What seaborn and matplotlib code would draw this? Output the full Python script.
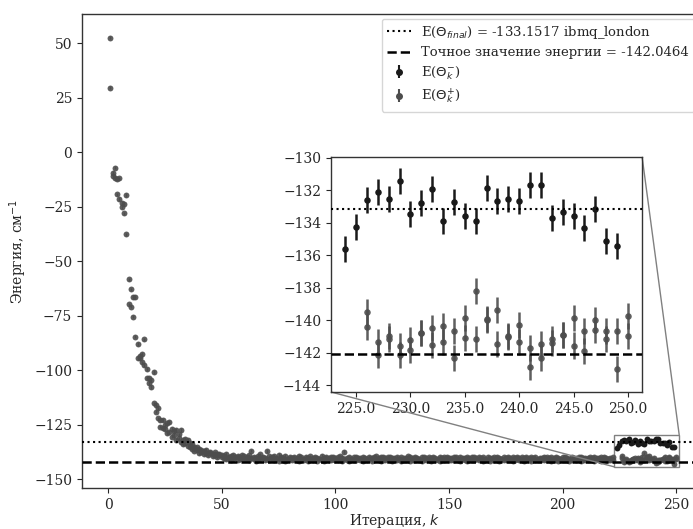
import numpy as np
import pandas as pd
import matplotlib
matplotlib.use("Agg")
import matplotlib.pyplot as plt
import seaborn as sns
from mpl_toolkits.axes_grid1.inset_locator import mark_inset

# ---------------- data ----------------
E_final = -133.1517
E_exact = -142.0464

# iterations for the grey series (E(Theta_k^+)), two runs per iteration
k_plus = list(range(1, 223)) + list(range(226, 251))
plus_a = [
    52.5, -9.5, -7.2, -12.5, -12.1, -23.2, -24.0, -19.7, -58.4, -63.0,
    -66.4, -66.4, -88.0, -94.6, -96.5, -85.9, -103.8, -106.0, -107.7, -100.8,
    -116.1, -117.6, -126.0, -123.0, -125.2, -129.0, -123.7, -127.0, -129.8, -127.5,
    -131.3, -127.5, -132.1, -133.6, -132.1, -135.2, -134.0, -135.2, -136.7, -136.0,
    -137.5, -137.0, -136.7, -138.0, -138.2, -138.5, -137.8, -138.5, -139.0, -138.8,
    -139.2, -138.6, -139.8, -139.5, -138.9, -140.1, -139.4, -139.9, -138.8, -139.6,
    -139.7, -139.1, -136.9, -139.8, -140.2, -139.5, -138.7, -139.9, -140.3, -137.2,
    -139.6, -140.1, -139.3, -140.4, -139.0, -139.9, -140.2, -139.5, -140.6, -139.8,
    -140.3, -139.7, -140.5, -139.4, -140.1, -140.6, -139.8, -140.2, -139.6, -140.4,
    -139.9, -140.3, -140.7, -139.5, -140.2, -139.8, -140.5, -140.0, -139.7, -140.4,
    -140.1, -139.6, -140.4, -137.6, -140.2, -139.9, -140.6, -140.0, -139.7, -140.3,
    -140.5, -139.8, -140.2, -140.6, -139.9, -140.3, -140.0, -139.6, -140.4, -140.1,
    -139.8, -140.4, -140.1, -139.7, -140.5, -140.2, -139.9, -140.6, -140.0, -140.3,
    -140.2, -139.6, -140.0, -140.5, -139.8, -140.3, -140.7, -139.9, -140.1, -140.4,
    -140.0, -140.4, -139.7, -140.2, -140.6, -139.9, -140.3, -140.1, -139.8, -140.5,
    -140.3, -139.9, -140.1, -140.6, -139.7, -140.2, -140.4, -140.0, -140.5, -139.8,
    -140.1, -140.5, -139.8, -140.3, -140.0, -140.6, -139.9, -140.2, -140.4, -140.1,
    -139.9, -140.3, -140.6, -140.0, -140.2, -139.7, -140.4, -140.1, -140.5, -139.8,
    -140.2, -140.0, -140.4, -139.8, -140.5, -140.1, -140.3, -139.9, -140.6, -140.2,
    -140.4, -139.9, -140.1, -140.5, -140.0, -140.3, -139.7, -140.2, -140.6, -140.1,
    -140.0, -140.3, -140.6, -139.8, -140.2, -140.4, -140.1, -139.9, -140.5, -140.2,
    -140.3, -140.0, -140.4, -139.8, -140.2, -140.5, -140.1, -139.9, -140.3, -140.6,
    -140.2, -140.0,
    -139.50, -141.34, -140.97, -141.58, -141.21, -140.76, -140.46, -140.31, -140.62, -139.84,
    -138.16, -139.90, -139.33, -141.01, -140.25, -141.68, -141.42, -141.11, -140.87, -139.84,
    -140.66, -139.99, -140.66, -140.66, -139.74,
]
plus_b = [
    29.5, -11.0, -12.0, -19.4, -21.6, -25.4, -28.1, -37.8, -69.9, -70.9,
    -75.5, -84.7, -94.6, -93.5, -92.7, -97.7, -99.5, -103.8, -104.5, -115.3,
    -119.1, -122.2, -123.0, -126.5, -127.0, -124.5, -128.3, -130.5, -128.0, -132.0,
    -129.5, -133.0, -134.0, -131.5, -135.0, -133.5, -136.0, -137.0, -135.5, -138.0,
    -136.5, -138.5, -138.0, -139.0, -137.5, -139.5, -139.0, -140.0, -138.5, -140.0,
    -140.4, -140.9, -140.2, -141.1, -140.6, -140.0, -141.3, -140.7, -140.5, -141.0,
    -140.8, -141.2, -140.4, -140.9, -141.5, -140.6, -141.0, -140.3, -141.4, -140.7,
    -141.1, -140.5, -141.3, -140.8, -141.6, -140.9, -141.2, -141.5, -140.7, -141.0,
    -141.4, -140.9, -141.1, -141.7, -140.8, -141.3, -141.0, -141.6, -140.7, -141.2,
    -141.0, -141.5, -140.8, -141.3, -141.6, -140.9, -141.2, -141.4, -140.6, -141.1,
    -141.3, -140.8, -141.5, -141.0, -141.2, -141.7, -140.9, -141.4, -141.1, -140.7,
    -141.2, -141.6, -140.9, -141.3, -141.0, -141.5, -141.1, -140.8, -141.4, -141.7,
    -141.1, -141.4, -140.8, -141.2, -141.6, -141.0, -141.3, -140.9, -141.5, -141.2,
    -141.3, -140.9, -141.5, -141.1, -141.4, -140.8, -141.2, -141.6, -141.0, -141.3,
    -141.2, -141.5, -140.9, -141.3, -141.1, -141.6, -140.8, -141.4, -141.0, -141.3,
    -141.1, -141.4, -140.9, -141.2, -141.5, -141.0, -141.3, -141.7, -140.8, -141.2,
    -141.4, -141.0, -141.3, -140.9, -141.6, -141.1, -141.2, -141.5, -140.8, -141.3,
    -141.2, -141.5, -141.0, -141.3, -140.9, -141.4, -141.1, -141.6, -141.2, -140.8,
    -141.3, -141.1, -141.5, -141.0, -141.2, -141.6, -140.9, -141.4, -141.1, -141.3,
    -141.0, -141.4, -141.2, -140.9, -141.5, -141.1, -141.3, -141.6, -141.0, -141.2,
    -141.3, -141.1, -141.5, -141.2, -140.9, -141.4, -141.0, -141.6, -141.2, -141.3,
    -141.1, -141.4, -141.2, -141.5, -140.9, -141.3, -141.6, -141.0, -141.2, -141.4,
    -141.3, -141.1,
    -140.40, -142.15, -141.17, -142.15, -141.79, -140.80, -141.48, -141.34, -142.30, -141.07,
    -141.17, -139.95, -141.42, -140.95, -141.34, -142.85, -142.30, -141.38, -140.90, -141.54,
    -141.85, -140.56, -141.17, -142.97, -140.93,
]
# dark series (E(Theta_k^-)) on ibmq_london
k_minus = list(range(224, 250))
minus_vals = [
    -135.59, -134.25, -132.58, -132.09, -132.54, -131.41, -133.42, -132.78, -131.94, -133.85,
    -132.74, -133.56, -133.85, -131.82, -132.68, -132.52, -132.62, -131.68, -131.68, -133.68,
    -133.31, -133.56, -134.34, -133.13, -135.11, -135.40,
]
err_plus = 0.8
err_minus = 0.8

x_ticks_main = [0, 50, 100, 150, 200, 250]
y_ticks_main = [-150, -125, -100, -75, -50, -25, 0, 25, 50]
x_ticks_ins = [225.0, 230.0, 235.0, 240.0, 245.0, 250.0]
y_ticks_ins = [-144, -142, -140, -138, -136, -134, -132, -130]

label_final = r"E($\Theta_{final}$) = -133.1517 ibmq_london"
label_exact = "Точное значение энергии = -142.0464"
label_minus = r"E($\Theta_k^{-}$)"
label_plus = r"E($\Theta_k^{+}$)"

# ---------------- style ----------------
sns.set_style("ticks")
plt.rcParams["font.family"] = ["DejaVu Serif"]
plt.rcParams["mathtext.fontset"] = "dejavusans"
plt.rcParams["font.size"] = 10
plt.rcParams["axes.edgecolor"] = "0.2"
plt.rcParams["axes.linewidth"] = 1.0

col_minus = "0.1"
col_plus = "0.3"

df_plus = pd.DataFrame({
    "k": k_plus + k_plus,
    "E": plus_a + plus_b,
})
df_minus = pd.DataFrame({"k": k_minus, "E": minus_vals})

fig = plt.figure(figsize=(6.93, 5.29), dpi=100)
ax = fig.add_axes([0.1183, 0.0775, 0.9019, 0.896])


def draw(a, ms_s, elw):
    a.errorbar(df_plus["k"], df_plus["E"], yerr=err_plus, fmt="none",
               ecolor=col_plus, elinewidth=elw, alpha=0.9, zorder=2)
    sns.scatterplot(data=df_plus, x="k", y="E", ax=a, color=col_plus, s=ms_s,
                    linewidth=0, alpha=0.9, legend=False, zorder=3)
    a.errorbar(df_minus["k"], df_minus["E"], yerr=err_minus, fmt="none",
               ecolor=col_minus, elinewidth=elw, zorder=4)
    sns.scatterplot(data=df_minus, x="k", y="E", ax=a, color=col_minus, s=ms_s,
                    linewidth=0, legend=False, zorder=5)
    a.axhline(E_final, color="black", ls=":", lw=1.5, zorder=6)
    a.axhline(E_exact, color="black", ls="--", lw=1.8, zorder=6)


draw(ax, 18, 1.0)
ax.set_xlim(-11.5, 263.5)
ax.set_ylim(-154.1, 63.3)
ax.set_xticks(x_ticks_main)
ax.set_yticks(y_ticks_main)
ax.set_xlabel(r"Итерация, $k$", labelpad=0)
ax.set_ylabel(r"Энергия, см$^{-1}$")

# legend proxies
h1, = ax.plot([], [], color="black", ls=":", lw=1.5, label=label_final)
h2, = ax.plot([], [], color="black", ls="--", lw=1.8, label=label_exact)
h3 = ax.errorbar([np.nan], [np.nan], yerr=[1], fmt="o", color=col_minus, ms=4,
                 elinewidth=1.5, label=label_minus)
h4 = ax.errorbar([np.nan], [np.nan], yerr=[1], fmt="o", color=col_plus, ms=4,
                 elinewidth=1.5, label=label_plus)
ax.legend(handles=[h1, h2, h3, h4], loc="upper right", fontsize=9.5,
          frameon=True, fancybox=True, edgecolor="0.8",
          bbox_to_anchor=(699 / 693, 1 - 14 / 529), bbox_transform=fig.transFigure,
          borderaxespad=0.35, labelspacing=0.4, handlelength=1.8)

# inset
axins = fig.add_axes([0.4776, 0.259, 0.449, 0.444])
draw(axins, 22, 1.8)
axins.set_xlim(222.7, 251.3)
axins.set_ylim(-144.4, -129.95)
axins.set_xticks(x_ticks_ins)
axins.set_xticklabels([f"{v:.1f}" for v in x_ticks_ins])
axins.set_yticks(y_ticks_ins)
axins.set_xlabel("")
axins.set_ylabel("")
mark_inset(ax, axins, loc1=1, loc2=3, fc="none", ec="0.5", lw=1.0)

fig.savefig("out.png", dpi=100)
